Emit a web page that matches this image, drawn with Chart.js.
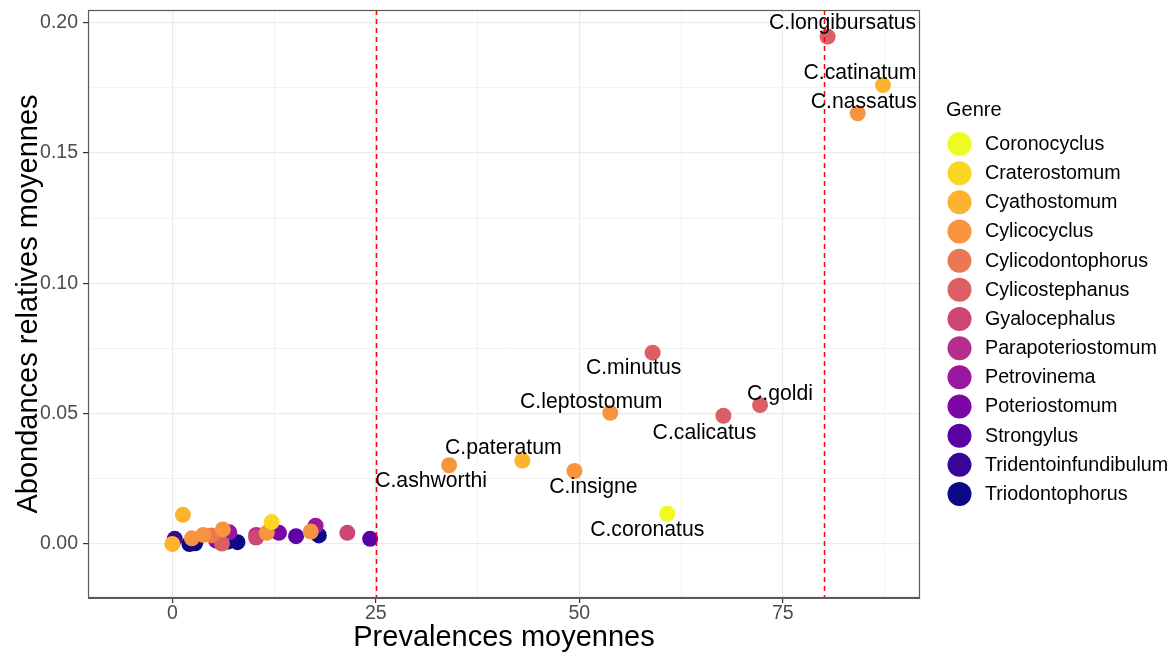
<!DOCTYPE html>
<html>
<head>
<meta charset="utf-8">
<script src="https://cdn.jsdelivr.net/npm/chart.js@4.4.1/dist/chart.umd.min.js"></script>
<style>
  html, body { margin: 0; padding: 0; background: #ffffff; }
  #wrap { width: 1175px; height: 654px; }
</style>
</head>
<body>
<div id="wrap"><canvas id="c" width="1175" height="654"></canvas></div>
<script>
// ---------- DATA ----------
const genera = ["Coronocyclus", "Craterostomum", "Cyathostomum", "Cylicocyclus",
  "Cylicodontophorus", "Cylicostephanus", "Gyalocephalus", "Parapoteriostomum",
  "Petrovinema", "Poteriostomum", "Strongylus", "Tridentoinfundibulum", "Triodontophorus"];

// one entry per species
const species = ["C.longibursatus", "C.catinatum", "C.nassatus", "C.minutus", "C.goldi",
  "C.calicatus", "C.leptostomum", "C.pateratum", "C.ashworthi", "C.insigne", "C.coronatus",
  "", "", "", "", "", "", "", "", "", "", "", "", "", "", "", "", "", "", "", "", "", "", "", "", ""];
const speciesGenus = ["Cylicostephanus", "Cyathostomum", "Cylicocyclus", "Cylicostephanus", "Cylicostephanus",
  "Cylicostephanus", "Cylicocyclus", "Cyathostomum", "Cylicocyclus", "Cylicocyclus", "Coronocyclus",
  "Strongylus", "Cyathostomum", "Tridentoinfundibulum", "Cyathostomum", "Triodontophorus", "Triodontophorus",
  "Cylicocyclus", "Cylicocyclus", "Cylicodontophorus", "Poteriostomum", "Cylicostephanus", "Cylicocyclus",
  "Petrovinema", "Triodontophorus", "Triodontophorus", "Parapoteriostomum", "Gyalocephalus", "Craterostomum",
  "Cylicocyclus", "Poteriostomum", "Strongylus", "Cylicocyclus", "Petrovinema", "Triodontophorus", "Gyalocephalus"];
const prevalence = [80.5, 87.3, 84.2, 59.0, 72.2,
  67.7, 53.8, 43.0, 34.0, 49.4, 60.8,
  24.3, 1.3, 0.3, 0.0, 2.1, 2.8,
  2.4, 3.8, 4.8, 5.4, 6.1, 6.2,
  7.0, 6.9, 8.0, 10.3, 10.3, 12.2,
  11.6, 13.1, 15.2, 17.0, 17.6, 18.0, 21.5];
const abundance = [0.1946, 0.1760, 0.1652, 0.0734, 0.0533,
  0.0492, 0.0503, 0.0320, 0.0302, 0.0280, 0.0116,
  0.0020, 0.0112, 0.0020, 0.0000, 0.0000, 0.0003,
  0.0022, 0.0035, 0.0033, 0.0013, 0.0002, 0.0056,
  0.0045, 0.0010, 0.0007, 0.0035, 0.0025, 0.0084,
  0.0043, 0.0043, 0.0030, 0.0048, 0.0070, 0.0033, 0.0043];

const xMajor = [0, 25, 50, 75];
const xMinor = [12.5, 37.5, 62.5, 87.5];
const yMajor = [0, 0.05, 0.10, 0.15, 0.20];
const yMinor = [0.025, 0.075, 0.125, 0.175];
const vLines = [25, 80];

// ---------- STYLE ----------
const palette = ["#F0F921", "#FBD424", "#FCB330", "#F7953F", "#EC7853", "#DD5F66", "#CC4778",
  "#B62F8C", "#9A189F", "#7C07A6", "#5C01A5", "#380599", "#0D0887"];
const labelOffset = {
  "C.longibursatus": [15, -13], "C.catinatum": [-23, -12], "C.nassatus": [6, -11],
  "C.minutus": [-19, 16], "C.goldi": [20, -11], "C.calicatus": [-19, 17],
  "C.leptostomum": [-19, -11], "C.pateratum": [-19, -12], "C.ashworthi": [-18, 16],
  "C.insigne": [19, 16], "C.coronatus": [-20, 16]
};
const FONT = '"Liberation Sans", Arial, Helvetica, sans-serif';

const datasets = genera.map((g, gi) => ({
  label: g,
  data: prevalence.map((x, i) => ({ x: x, y: abundance[i], name: species[i], g: speciesGenus[i] }))
                  .filter(p => p.g === g),
  backgroundColor: palette[gi],
  borderWidth: 0,
  pointRadius: 8,
  pointHoverRadius: 8
}));

const near = (a, list) => list.some(v => Math.abs(v - a) < 1e-9);

const overlay = {
  id: 'overlay',
  afterDatasetsDraw(chart) {
    const { ctx, chartArea: a, scales: { x, y } } = chart;
    ctx.save();
    // dashed vertical lines
    ctx.strokeStyle = '#FF0000';
    ctx.lineWidth = 1.5;
    ctx.setLineDash([5, 4]);
    vLines.forEach(v => {
      const px = Math.round(x.getPixelForValue(v)) + 0.5;
      ctx.beginPath(); ctx.moveTo(px, a.top); ctx.lineTo(px, a.bottom); ctx.stroke();
    });
    ctx.setLineDash([]);
    // point labels
    ctx.fillStyle = '#000000';
    ctx.font = '21.2px ' + FONT;
    ctx.textAlign = 'center';
    ctx.textBaseline = 'middle';
    species.forEach((s, i) => {
      if (!s) return;
      const off = labelOffset[s] || [0, -14];
      ctx.fillText(s, x.getPixelForValue(prevalence[i]) + off[0], y.getPixelForValue(abundance[i]) + off[1]);
    });
    // panel border
    ctx.strokeStyle = '#5a5a5a';
    ctx.lineWidth = 1.2;
    ctx.strokeRect(a.left + 0.5, a.top + 0.5, a.right - a.left - 1, a.bottom - a.top - 1);
    ctx.restore();
  },
  afterDraw(chart) {
    const { ctx } = chart;
    ctx.save();
    ctx.fillStyle = '#000000';
    ctx.textAlign = 'left';
    ctx.textBaseline = 'middle';
    ctx.font = '20px ' + FONT;
    ctx.fillText('Genre', 946, 110);
    ctx.font = '19.7px ' + FONT;
    genera.forEach((g, i) => {
      const cy = 144 + i * 29.17;
      ctx.fillStyle = palette[i];
      ctx.beginPath(); ctx.arc(959.5, cy, 12, 0, Math.PI * 2); ctx.fill();
      ctx.fillStyle = '#000000';
      ctx.fillText(g, 985, cy + 0.5);
    });
    ctx.restore();
  }
};

const gridColor = '#EBEBEB';

new Chart(document.getElementById('c'), {
  type: 'scatter',
  data: { datasets },
  options: {
    responsive: false,
    devicePixelRatio: 1,
    animation: false,
    events: [],
    layout: { padding: { left: 0, top: 10, right: 255, bottom: 0 } },
    plugins: { legend: { display: false }, tooltip: { enabled: false } },
    scales: {
      x: {
        type: 'linear', position: 'bottom', min: -10.36, max: 91.85,
        afterBuildTicks: s => { s.ticks = xMajor.concat(xMinor).sort((a, b) => a - b).map(v => ({ value: v })); },
        afterFit: s => { s.height = 56; s.paddingLeft = 0; s.paddingRight = 0; },
        border: { display: true, color: '#5a5a5a', width: 1 },
        grid: {
          color: gridColor,
          lineWidth: c => (c.tick && near(c.tick.value, xMajor)) ? 1.2 : 0.6,
          tickColor: c => (c.tick && near(c.tick.value, xMajor)) ? '#333333' : 'rgba(0,0,0,0)',
          tickLength: 5, drawTicks: true
        },
        ticks: {
          autoSkip: false, maxRotation: 0, padding: 0, color: '#4D4D4D',
          font: { family: FONT, size: 19.5, lineHeight: 1.1 },
          callback: v => near(v, xMajor) ? String(v) : ''
        },
        title: {
          display: true, text: 'Prevalences moyennes', color: '#000000',
          font: { family: FONT, size: 29, lineHeight: 1.1 }, padding: { top: 0, bottom: 0 }
        }
      },
      y: {
        type: 'linear', position: 'left', min: -0.0207, max: 0.2048,
        afterBuildTicks: s => { s.ticks = yMajor.concat(yMinor).sort((a, b) => a - b).map(v => ({ value: v })); },
        afterFit: s => { s.width = 88; s.paddingTop = 0; s.paddingBottom = 0; },
        border: { display: true, color: '#5a5a5a', width: 1 },
        grid: {
          color: gridColor,
          lineWidth: c => (c.tick && near(c.tick.value, yMajor)) ? 1.2 : 0.6,
          tickColor: c => (c.tick && near(c.tick.value, yMajor)) ? '#333333' : 'rgba(0,0,0,0)',
          tickLength: 5, drawTicks: true
        },
        ticks: {
          autoSkip: false, padding: 5, color: '#4D4D4D',
          font: { family: FONT, size: 19.5, lineHeight: 1.0 },
          callback: v => near(v, yMajor) ? v.toFixed(2) : ''
        },
        title: {
          display: true, text: 'Abondances relatives moyennes', color: '#000000',
          font: { family: FONT, size: 29, lineHeight: 1.1 }, padding: { top: 13, bottom: 0 }
        }
      }
    }
  },
  plugins: [overlay]
});
</script>
</body>
</html>
